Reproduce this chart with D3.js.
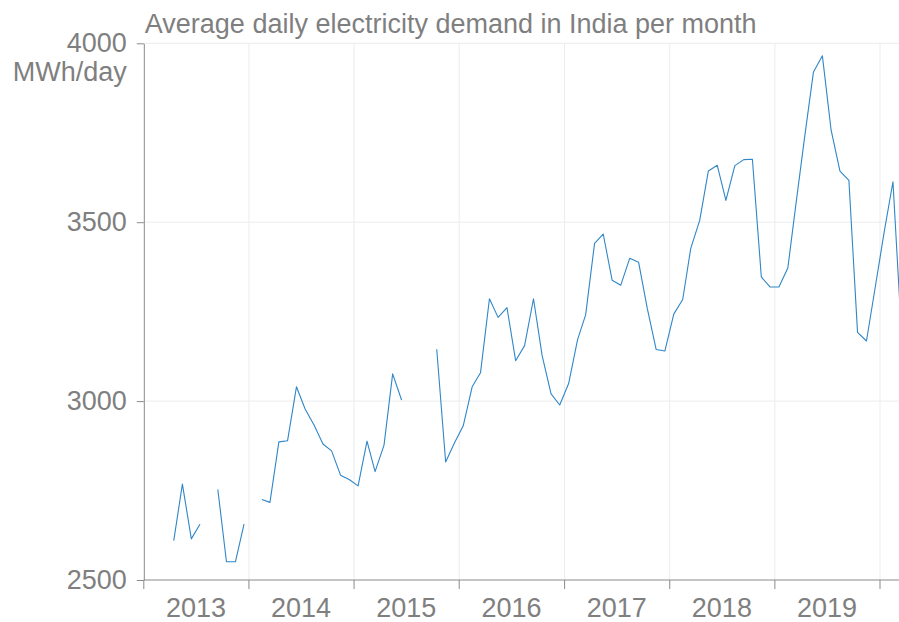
<!DOCTYPE html>
<html>
<head>
<meta charset="utf-8">
<script src="https://cdn.jsdelivr.net/npm/d3@7"></script>
<style>
  html, body { margin: 0; padding: 0; background: #fff; }
  svg { display: block; }
  text { font-family: "Liberation Sans", Arial, Helvetica, sans-serif; fill: #7f7f7f; }
</style>
</head>
<body>
<svg id="chart" width="899" height="622"></svg>
<script>
// Average daily electricity demand (MWh/day), one value per month from Jan 2013.
// null marks months without a reading.
const firstMonth = "2013-01";
const demand = [
  null, null, null, 2610, 2768, 2615, 2656, null, 2753, 2551, 2551, 2656,   // 2013
  null, 2725, 2717, 2886, 2889, 3040, 2978, 2933, 2880, 2861, 2793, 2781,   // 2014
  2763, 2888, 2803, 2877, 3076, 3003, null, null, null, 3145, 2830, 2882,   // 2015
  2931, 3040, 3079, 3286, 3234, 3261, 3113, 3155, 3286, 3127, 3020, 2989,   // 2016
  3049, 3172, 3241, 3441, 3467, 3338, 3324, 3399, 3388, 3259, 3144, 3140,   // 2017
  3243, 3284, 3427, 3505, 3643, 3659, 3561, 3658, 3675, 3676, 3347, 3319,   // 2018
  3319, 3372, 3550, 3742, 3920, 3965, 3759, 3643, 3617, 3192, 3168, 3316,   // 2019
  3470, 3613, 3197                                                          // 2020
];
const yearLabels = ["2013", "2014", "2015", "2016", "2017", "2018", "2019"];
const yTicks = [2500, 3000, 3500, 4000];
const title = "Average daily electricity demand in India per month";
const unitLabel = "MWh/day";

const parseMonth = d3.timeParse("%Y-%m");
const start = parseMonth(firstMonth);
const rows = demand.map((v, i) => ({
  date: d3.timeDay.offset(d3.timeMonth.offset(start, i), 14),
  value: v
}));

const svg = d3.select("#chart");
const W = 899;
const plotLeft = 143.8, plotTop = 43.3, plotBottom = 580;

const x = d3.scaleTime()
  .domain([new Date(2013, 0, 1), new Date(2020, 0, 1)])
  .range([plotLeft, 880]);
const y = d3.scaleLinear().domain([2500, 4000]).range([plotBottom, plotTop]);

const yearStarts = d3.timeYear.range(new Date(2013, 0, 1), new Date(2021, 0, 1));

// grid
const grid = svg.append("g").attr("stroke", "#ececec").attr("stroke-width", 1);
grid.selectAll("line.v").data(yearStarts.slice(1)).join("line")
  .attr("class", "v")
  .attr("x1", d => x(d)).attr("x2", d => x(d))
  .attr("y1", plotTop).attr("y2", plotBottom);
grid.selectAll("line.h").data(yTicks.slice(1)).join("line")
  .attr("class", "h")
  .attr("x1", plotLeft).attr("x2", W)
  .attr("y1", d => y(d)).attr("y2", d => y(d));

// y axis
const yAxis = svg.append("g")
  .attr("transform", `translate(${plotLeft},0)`)
  .call(d3.axisLeft(y).tickValues(yTicks).tickSize(7).tickSizeOuter(0).tickPadding(10).tickFormat(d3.format("d")));
yAxis.select(".domain").attr("stroke", "#8a8a8a");
yAxis.selectAll(".tick line").attr("stroke", "#8a8a8a");
yAxis.selectAll(".tick text")
  .attr("font-size", 27).attr("fill", "#7f7f7f")
  .style("font-family", "'Liberation Sans', Arial, sans-serif");

// unit label under the top tick
svg.append("text")
  .attr("x", plotLeft - 17).attr("y", y(4000) + 38)
  .attr("text-anchor", "end")
  .attr("font-size", 27)
  .text(unitLabel);

// x axis: ticks at year boundaries, labels centred in each year
const xAxis = svg.append("g").attr("transform", `translate(0,${plotBottom})`);
xAxis.append("line")
  .attr("x1", plotLeft).attr("x2", W).attr("y1", 0).attr("y2", 0)
  .attr("stroke", "#8a8a8a");
xAxis.selectAll("line.tick").data(yearStarts).join("line")
  .attr("class", "tick")
  .attr("x1", d => x(d)).attr("x2", d => x(d))
  .attr("y1", 0).attr("y2", 9)
  .attr("stroke", "#8a8a8a");
xAxis.selectAll("text").data(yearLabels).join("text")
  .attr("x", d => x(new Date(+d, 6, 1)))
  .attr("y", 37)
  .attr("text-anchor", "middle")
  .attr("font-size", 27)
  .text(d => d);

// title
svg.append("text")
  .attr("x", plotLeft + 1).attr("y", 33)
  .attr("font-size", 27)
  .text(title);

// demand line, broken where months are missing
const line = d3.line()
  .defined(d => d.value != null)
  .x(d => x(d.date))
  .y(d => y(d.value));
svg.append("path")
  .datum(rows)
  .attr("fill", "none")
  .attr("stroke", "#2f86c8")
  .attr("stroke-width", 1.1)
  .attr("stroke-linejoin", "round")
  .attr("d", line);
</script>
</body>
</html>
